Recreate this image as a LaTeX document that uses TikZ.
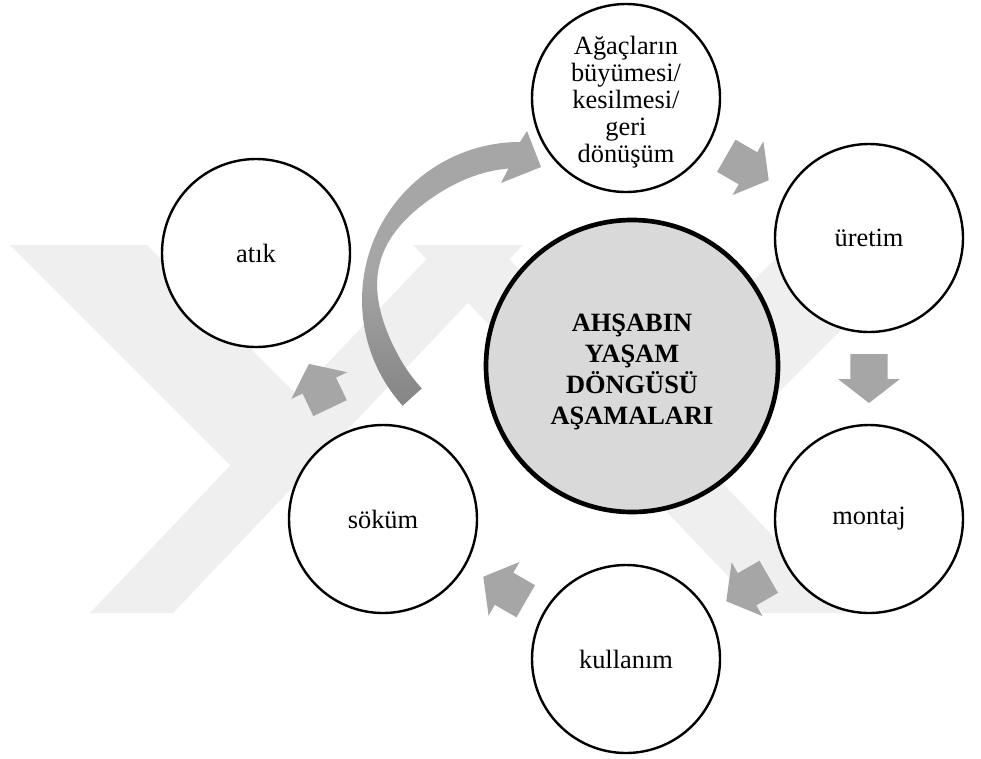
\documentclass[tikz,border=0pt]{standalone}
\usepackage{fontspec}
\setmainfont{Liberation Serif}
\usetikzlibrary{calc}
\definecolor{arrowgray}{HTML}{A6A6A6}
\definecolor{arrowdark}{HTML}{858585}
\definecolor{wm}{HTML}{EFEFEF}
\definecolor{centerfill}{HTML}{D9D9D9}
\newcommand{\cyclearrow}[2]{%
  \coordinate (tmpm) at ($(#1)!0.5!(#2)$);
  \coordinate (tmpt) at ($(tmpm)!-18.375pt!(#2)$);
  \coordinate (tmpp) at ($(tmpm)!18.375pt!(#2)$);
  \coordinate (tmph) at ($(tmpt)!0.51!(tmpp)$);
  \fill[arrowgray] ($(tmpt)!13.9pt!90:(tmpp)$) -- ($(tmph)!13.9pt!90:(tmpp)$)
    -- ($(tmph)!23.25pt!90:(tmpp)$) -- (tmpp) -- ($(tmph)!23.25pt!-90:(tmpp)$)
    -- ($(tmph)!13.9pt!-90:(tmpp)$) -- ($(tmpt)!13.9pt!-90:(tmpp)$) -- cycle;
}
\begin{document}
\begin{tikzpicture}[x=0.75pt,y=-0.75pt,
  stage/.style={circle,draw=black,line width=1.8pt,fill=white,minimum size=141pt,
    inner sep=0pt,align=center,font=\fontsize{19.8}{20.3}\selectfont},
  stagetext/.style={inner sep=0pt,align=center,font=\fontsize{19.8}{20.3}\selectfont},
  hub/.style={circle,draw=black,line width=3.5pt,fill=centerfill,minimum size=219pt,inner sep=0pt},
  hubtext/.style={inner sep=0pt,align=center,font=\fontsize{19.8}{23.3}\selectfont\bfseries}]
\useasboundingbox (0,0) rectangle (981,758);
\fill[white] (0,0) rectangle (981,758);
% watermark
\fill[wm] (440,245) -- (523,245) -- (173,613) -- (90,613) -- cycle;
\fill[wm] (10,245) -- (147,245) -- (297.2,395.2) -- (230.4,465.4) -- cycle;
\fill[wm] (496,245) -- (413,245) -- (763,613) -- (846,613) -- cycle;
\fill[wm] (926,245) -- (789,245) -- (638.8,395.2) -- (705.6,465.4) -- cycle;
% curved arrow (from söküm back to the first stage)
\shade[top color=arrowgray,bottom color=arrowdark,middle color=arrowgray]
  (402.6,405.7) arc[start angle=138,end angle=270,radius=158]
  -- (527,131) -- (541,167) -- (501,183) -- (508.5,168.5)
  -- plot[domain=265:138,samples=40,variable=\t]
     ({520+(132+13*exp(-((\t-195)/28)^2))*cos(\t)},{300+(132+13*exp(-((\t-195)/28)^2))*sin(\t)})
  -- cycle;
% nodes
\node[hub] (hub) at (632,366) {};
\node[hubtext] (hubtext) at (632,372) {AHŞABIN\\YAŞAM\\DÖNGÜSÜ\\AŞAMALARI};
\node[stage] (agac) at (626,98) {};
\node[stagetext] (agactext) at (626,102) {Ağaçların\\büyümesi/\\kesilmesi/\\geri\\dönüşüm};
\node[stage] (uretim) at (869,238) {üretim};
\node[stage] (montaj) at (869,519) {montaj};
\node[stage] (kullanim) at (626,659) {kullanım};
\node[stage] (sokum) at (383,519) {söküm};
\node[stage] (atik) at (256,253) {atık};
% arrows
\cyclearrow{agac}{uretim}
\cyclearrow{uretim}{montaj}
\cyclearrow{montaj}{kullanim}
\cyclearrow{kullanim}{sokum}
\cyclearrow{sokum}{atik}
\end{tikzpicture}
\end{document}
